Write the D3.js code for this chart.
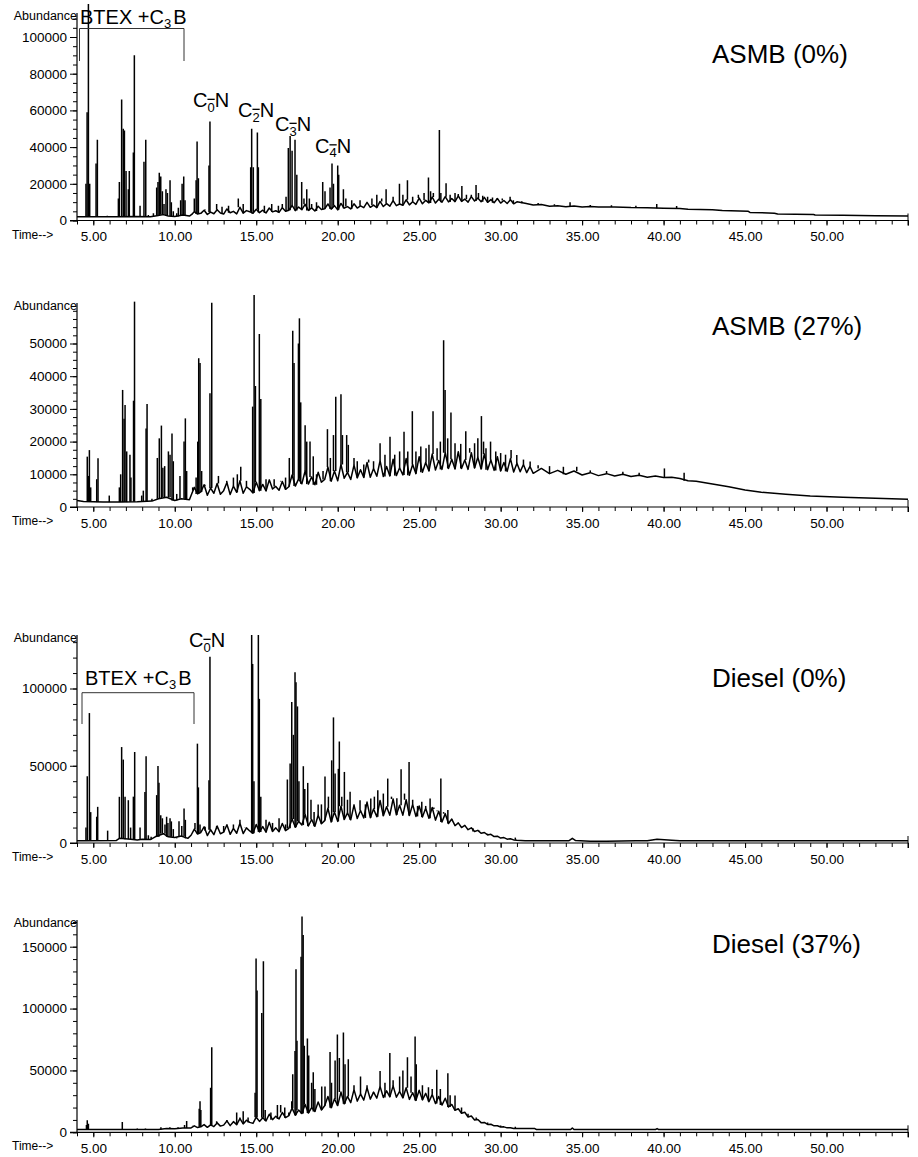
<!DOCTYPE html>
<html>
<head>
<meta charset="utf-8">
<script src="https://cdn.jsdelivr.net/npm/d3@7"></script>
<style>
body { margin: 0; background: #fff; }
svg { display: block; font-family: "Liberation Sans", Arial, sans-serif; }
</style>
</head>
<body>
<div id="chart"></div>
<script>
// ---- data (time in min, abundance) ----
var timeMajor = [5, 10, 15, 20, 25, 30, 35, 40, 45, 50, 55]

var asmb0Ticks = [0, 20000, 40000, 60000, 80000, 100000]
var asmb27Ticks = [0, 10000, 20000, 30000, 40000, 50000]
var diesel0Ticks = [0, 50000, 100000]
var diesel37Ticks = [0, 50000, 100000, 150000]

var asmb0Base = [[4.0,2000],[4.5,2000],[5.5,2000],[6.4,2000],[7.6,2200],[8.5,2000],[8.9,2600],[9.3,3200],[9.6,2500],[10.0,2200],[10.5,3000],[10.9,2400],
 [11.0,3000],[11.2,4800],[11.4,3500],[11.6,3900],[11.8,5600],[12.0,3300],[12.2,4600],[12.4,3700],[12.6,5900],[12.8,4100],[13.0,3500],[13.2,6300],
 [13.4,4200],[13.6,5000],[13.8,3600],[14.0,7200],[14.2,4000],[14.4,5400],[14.6,4800],[14.8,3900],[15.0,6100],[15.2,4300],[15.4,5600],[15.6,4100],
 [15.8,6800],[16.0,4700],[16.2,5300],[16.4,4400],[16.6,7000],[16.8,5000],[17.0,5600],[17.2,8200],[17.4,5400],[17.6,7300],[17.8,5900],[18.0,8800],
 [18.2,5500],[18.4,6900],[18.6,5200],[18.8,7800],[19.0,6000],[19.2,6400],[19.4,9000],[19.6,6200],[19.8,8100],[20.0,5800],[20.2,9300],[20.4,6700],
 [20.6,7600],[20.8,6300],[21.0,9100],[21.2,6800],[21.4,8000],[21.6,7000],[21.8,9900],[22.0,7200],[22.2,8400],[22.4,7000],[22.6,10400],[22.8,7600],
 [23.0,9200],[23.2,7800],[23.4,10800],[23.6,8100],[23.8,9000],[24.0,8300],[24.2,11300],[24.4,8500],[24.6,10200],[24.8,8800],[25.0,12200],[25.2,9100],
 [25.4,11000],[25.6,9600],[25.8,12800],[26.0,9500],[26.2,11600],[26.4,10000],[26.6,13000],[26.8,10100],[27.0,12000],[27.2,10300],[27.4,13400],[27.6,10400],
 [27.8,11700],[28.0,10000],[28.2,13000],[28.4,10600],[28.6,12200],[28.8,10200],[29.0,12600],[29.2,9900],[29.4,11400],[29.6,9700],[29.8,12000],[30.0,9500],
 [30.2,10900],[30.4,9300],[30.6,11300],[30.8,9100],[31.0,10200],
 [31.5,9400],[32.0,8400],[32.5,8700],[33.0,7800],[33.5,8000],[34.0,7500],[34.5,7900],[35.0,7300],[35.5,7600],[36.0,7300],[37.0,7400],[38.0,7100],
 [39.0,7000],[40.0,6700],[41.0,6500],[41.5,6100],[43.0,5800],[43.6,5400],[45.2,5000],[45.3,4400],[46.8,4000],[47.0,3500],[49.2,3300],[49.3,3000],
 [51.0,2800],[53.0,2600],[55.0,2500]]

var asmb0Peaks = [[4.55,20000],[4.62,59000],[4.70,118000],[4.78,20000],[5.17,31000],[5.25,44000],[5.86,2600],[6.54,12000],[6.60,21000],[6.74,66000],
 [6.84,50000],[6.91,49000],[7.01,27000],[7.15,17000],[7.21,27000],[7.46,37000],[7.52,90000],[7.87,8000],[8.11,32000],[8.22,44000],[8.38,3000],[8.69,4000],
 [8.89,18000],[8.97,21000],[9.05,26000],[9.14,24000],[9.24,16000],[9.34,9000],[9.46,17000],[9.55,15000],[9.71,22000],[9.79,10000],[9.91,5000],[10.12,4000],
 [10.22,7000],[10.36,11000],[10.45,20000],[10.55,24000],[10.63,11000],[11.04,3500],[11.20,12000],[11.31,22000],[11.37,43000],[11.45,23000],[11.86,6000],
 [12.10,30000],[12.16,54000],[12.57,9000],[12.9,7500],[13.3,8000],[13.9,12000],[14.2,9000],[14.66,29000],[14.72,50000],[14.82,29000],[15.07,48000],
 [15.13,29000],[15.5,8000],[15.95,9000],[16.36,8000],[16.6,9000],[16.83,13000],[16.97,39500],[17.08,46000],[17.20,38000],[17.38,44000],[17.49,25000],
 [17.79,21000],[17.93,12000],[18.10,17000],[18.26,12000],[18.40,9000],[18.7,10000],[19.08,21000],[19.22,16000],[19.53,18000],[19.65,31000],[19.74,20000],
 [20.0,30000],[20.06,25000],[20.35,17000],[20.5,12000],[20.86,11000],[21.37,11000],[21.78,10000],[22.1,12000],[22.4,14000],[22.7,12000],[22.97,17000],
 [23.4,13000],[23.79,20000],[24.0,14000],[24.28,22000],[24.6,13000],[24.95,14000],[25.3,15000],[25.57,23500],[25.7,16000],[25.87,15000],[26.24,49300],
 [26.33,15000],[26.65,20300],[26.9,14000],[27.2,15000],[27.4,14500],[27.62,18800],[27.9,14000],[28.2,14000],[28.49,19300],[28.64,15000],[28.9,13500],
 [29.2,13000],[29.5,12500],[29.77,11500],[30.1,12000],[30.58,13000],[30.78,11000],[31.3,10500],[32.3,9500],[33.3,8800],[34.26,9900],[35.5,8400],
 [36.8,8300],[38.3,8000],[39.58,9000],[40.8,7900]]

var asmb27Base = [[4.0,2000],[4.4,1700],[5.6,1500],[6.5,1500],[7.7,1600],[8.6,1800],[9.0,2500],[9.5,3000],[10.0,2000],[10.4,2500],[10.9,2200],
 [11.0,3500],[11.2,6000],[11.4,4000],[11.6,4600],[11.8,6800],[12.0,3600],[12.2,5800],[12.4,4200],[12.6,7200],[12.8,3900],[13.0,5000],[13.2,7500],
 [13.4,3800],[13.6,6400],[13.8,4500],[14.0,8000],[14.2,4200],[14.4,6200],[14.6,5400],[14.8,4300],[15.0,7600],[15.2,5000],[15.4,6900],[15.6,4900],
 [15.8,8300],[16.0,5500],[16.2,6300],[16.4,5100],[16.6,7800],[16.8,5400],[17.0,6200],[17.2,9800],[17.4,6400],[17.6,8600],[17.8,7100],[18.0,11000],
 [18.2,7000],[18.4,9200],[18.6,6800],[18.8,10600],[19.0,7600],[19.2,8400],[19.4,12200],[19.6,7900],[19.8,11000],[20.0,8000],[20.2,13000],[20.4,8800],
 [20.6,10600],[20.8,8400],[21.0,12800],[21.2,8900],[21.4,11400],[21.6,9000],[21.8,13600],[22.0,9100],[22.2,11800],[22.4,9400],[22.6,14200],[22.8,9300],
 [23.0,12400],[23.2,9500],[23.4,14600],[23.6,9600],[23.8,12000],[24.0,9800],[24.2,14800],[24.4,9700],[24.6,13000],[24.8,10200],[25.0,15400],[25.2,10600],
 [25.4,13600],[25.6,11000],[25.8,16200],[26.0,11300],[26.2,14200],[26.4,11500],[26.6,16600],[26.8,11800],[27.0,14600],[27.2,11600],[27.4,16900],[27.6,11800],
 [27.8,14400],[28.0,11500],[28.2,16600],[28.4,11900],[28.6,15200],[28.8,11600],[29.0,16200],[29.2,11400],[29.4,14400],[29.6,11200],[29.8,15400],[30.0,11000],
 [30.2,13600],[30.4,10900],[30.6,14800],[30.8,10700],[31.0,13400],[31.2,10800],[31.4,13000],[31.6,10500],[31.8,12400],[32.0,10300],
 [32.5,11800],[33.0,10200],[33.5,11200],[34.0,10000],[34.5,11000],[35.0,9800],[35.5,10500],[36.0,9600],[36.5,10200],[37.0,9500],[37.5,10000],
 [38.0,9300],[38.5,9700],[39.0,9100],[39.5,9500],[40.0,9000],[40.5,9100],[41.0,8700],[41.5,8000],[42.0,7900],[43.0,7000],[44.0,6200],[45.0,5200],
 [46.0,4500],[47.5,3900],[49.0,3400],[51.0,3000],[53.0,2700],[55.0,2400]]

var asmb27Peaks = [[4.63,15400],[4.70,9500],[4.76,17400],[4.84,6000],[5.21,8500],[5.29,14900],[5.98,3500],[6.60,6000],[6.68,10000],[6.80,35800],
 [6.89,27000],[6.95,31200],[7.05,17000],[7.25,16000],[7.31,9000],[7.47,32500],[7.53,62800],[7.97,3500],[8.07,5000],[8.24,24000],[8.30,31500],[8.6,2500],
 [8.93,15000],[9.05,21000],[9.18,24900],[9.27,12000],[9.38,12500],[9.61,17000],[9.71,16000],[9.83,22500],[9.91,14000],[10.12,4000],[10.32,9500],
 [10.57,20000],[10.65,27100],[10.73,11000],[11.10,5000],[11.31,9000],[11.41,20000],[11.47,45500],[11.55,44000],[11.65,11000],[11.86,6500],[12.16,34800],
 [12.27,62500],[12.68,9500],[13.19,8000],[13.6,9000],[13.84,10000],[14.05,12300],[14.4,8000],[14.78,30700],[14.87,64800],[14.95,37000],[15.19,52900],
 [15.28,33000],[15.6,8500],[16.1,8500],[16.5,8000],[16.8,9000],[17.03,15000],[17.24,53900],[17.32,44000],[17.59,50000],[17.65,57700],[17.73,32000],
 [18.0,25000],[18.1,20000],[18.3,20000],[18.5,15500],[18.7,10000],[19.1,11000],[19.37,23800],[19.55,15000],[19.74,22000],[19.88,33700],[20.2,34500],
 [20.29,22000],[20.55,22000],[20.65,19000],[21.0,15000],[21.2,14000],[21.6,13000],[21.9,14500],[22.2,14000],[22.6,19500],[22.9,16000],[23.21,21500],
 [23.5,16000],[23.8,17000],[24.07,23000],[24.3,17000],[24.58,29300],[24.8,17000],[25.1,18500],[25.42,18000],[25.6,19000],[25.85,29300],[26.1,18000],
 [26.3,20000],[26.50,51000],[26.59,35800],[26.75,21000],[26.95,28900],[27.2,19500],[27.55,19300],[27.86,23200],[28.1,18000],[28.4,19500],[28.6,21000],
 [28.82,27800],[28.95,20000],[29.1,18000],[29.38,20000],[29.7,17000],[30.0,16500],[30.3,16000],[30.64,17400],[30.99,15900],[31.4,14500],[31.81,13900],
 [32.3,12800],[33.0,12500],[33.85,12300],[34.67,12300],[35.5,11200],[36.5,11000],[37.5,10800],[38.5,10500],[40.05,11800],[41.26,10500]]

var diesel0Base = [[4.0,1500],[4.5,1500],[6.4,1600],[6.6,3000],[7.3,2500],[7.7,2000],[8.0,2500],[8.5,2200],[8.8,4000],[9.3,6000],[9.6,4000],[10.0,3500],
 [10.4,4500],[10.8,3000],
 [11.0,5000],[11.2,9000],[11.4,5800],[11.6,6800],[11.8,10500],[12.0,4800],[12.2,8600],[12.4,5400],[12.6,11000],[12.8,6000],[13.0,7000],[13.2,11800],
 [13.4,5600],[13.6,9500],[13.8,6300],[14.0,12800],[14.2,6100],[14.4,9800],[14.6,7800],[14.8,6300],[15.0,12000],[15.2,7200],[15.4,10600],[15.6,7000],
 [15.8,13400],[16.0,7500],[16.2,9800],[16.4,7300],[16.6,12600],[16.8,8000],[17.0,9500],[17.2,15500],[17.4,10200],[17.6,14000],[17.8,11600],[18.0,18500],
 [18.2,11000],[18.4,15200],[18.6,10800],[18.8,18000],[19.0,12400],[19.2,14500],[19.4,22500],[19.6,13600],[19.8,20000],[20.0,14000],[20.2,23800],[20.4,15200],
 [20.6,19500],[20.8,15000],[21.0,24500],[21.2,15800],[21.4,21000],[21.6,16200],[21.8,26500],[22.0,16400],[22.2,22000],[22.4,17000],[22.6,27500],[22.8,17600],
 [23.0,23500],[23.2,18000],[23.4,28500],[23.6,18200],[23.8,24500],[24.0,18000],[24.2,28000],[24.4,17800],[24.6,25000],[24.8,17200],[25.0,24000],[25.2,16800],
 [25.4,22500],[25.6,16000],[25.8,23000],[26.0,14800],[26.2,20500],[26.4,13600],[26.6,19000],[26.8,12600],[27.0,15500],[27.2,11200],[27.4,13000],[27.6,10000],
 [27.8,11400],[28.0,8600],[28.2,9800],[28.4,7400],[28.6,8200],[28.8,6300],[29.0,6800],[29.2,5200],[29.4,5600],[29.6,4200],[29.8,4400],[30.0,3200],
 [30.2,3500],[30.4,2500],[30.6,2700],[30.8,2000],[31.0,1800],
 [31.5,1500],[34.2,1500],[34.4,3000],[34.6,1600],[35.5,1200],[36.5,1200],[38.3,1400],[39.0,1400],[39.6,2500],[40.5,1800],[41.0,1500],[55.0,1500]]

var diesel0Peaks = [[4.55,10000],[4.63,43200],[4.76,84100],[4.84,20000],[5.21,17000],[5.27,23400],[5.88,8000],[6.60,29900],[6.74,62100],[6.84,54000],
 [6.95,30000],[7.15,27700],[7.29,10000],[7.46,30000],[7.54,58900],[7.87,10000],[8.17,33000],[8.24,56100],[8.38,5000],[8.55,4000],[8.89,31000],[8.97,49900],
 [9.03,39000],[9.14,18000],[9.24,16000],[9.4,12000],[9.5,17000],[9.58,13000],[9.71,16000],[9.79,14000],[9.91,9000],[10.12,3000],[10.26,14000],[10.43,11000],
 [10.57,22400],[10.65,15000],[11.04,5000],[11.24,13000],[11.39,64300],[11.45,36000],[11.55,12000],[11.86,8000],[12.10,40600],[12.16,120600],[12.57,9000],
 [13.0,11000],[13.6,12000],[14.0,15000],[14.3,10000],[14.72,140000],[14.78,115900],[14.86,40000],[15.13,140000],[15.19,93300],[15.28,30000],[15.6,15000],
 [16.0,13000],[16.4,16000],[16.8,12000],[16.91,41100],[17.08,51400],[17.18,91200],[17.28,70000],[17.38,110500],[17.44,104100],[17.53,88400],[17.62,40000],
 [17.89,49700],[17.98,35000],[18.16,38900],[18.36,28000],[18.55,20000],[18.8,25000],[19.0,25000],[19.22,43000],[19.43,30000],[19.63,53500],[19.74,81300],
 [19.84,45000],[20.04,48000],[20.1,65700],[20.25,30000],[20.41,46000],[20.6,28000],[20.76,33100],[21.0,25000],[21.37,27700],[21.7,25000],[22.03,28800],
 [22.25,30000],[22.46,34200],[22.8,32000],[23.07,41700],[23.3,30000],[23.63,29000],[23.89,47700],[24.1,32000],[24.38,52500],[24.6,28000],[24.9,24000],
 [25.16,26700],[25.4,24000],[25.67,28800],[25.9,22000],[26.1,21000],[26.33,41700],[26.5,20000],[26.76,21300],[27.0,15000],[27.4,12500],[27.8,11000],
 [28.3,9500],[28.7,8000],[29.2,6000],[30.9,3500]]

var diesel37Base = [[4.0,2200],[9.0,2200],[9.5,3000],[10.0,2800],[10.5,3500],
 [11.0,3500],[11.2,5200],[11.4,3800],[11.6,4400],[11.8,6200],[12.0,4000],[12.2,6000],[12.4,4600],[12.6,7600],[12.8,5000],[13.0,5800],[13.2,9200],
 [13.4,5400],[13.6,8600],[13.8,6200],[14.0,11000],[14.2,6800],[14.4,9800],[14.6,8000],[14.8,7200],[15.0,12200],[15.2,8800],[15.4,11800],[15.6,9200],
 [15.8,14600],[16.0,10200],[16.2,13000],[16.4,10800],[16.6,16000],[16.8,11800],[17.0,13500],[17.2,19500],[17.4,13800],[17.6,18000],[17.8,15200],[18.0,22500],
 [18.2,15600],[18.4,20000],[18.6,16800],[18.8,24500],[19.0,18000],[19.2,21500],[19.4,29000],[19.6,19800],[19.8,27000],[20.0,21600],[20.2,32500],[20.4,23000],
 [20.6,29000],[20.8,24000],[21.0,34500],[21.2,25200],[21.4,31000],[21.6,26000],[21.8,36000],[22.0,26800],[22.2,32500],[22.4,27600],[22.6,37000],[22.8,28200],
 [23.0,33500],[23.2,28600],[23.4,37500],[23.6,28400],[23.8,33000],[24.0,27800],[24.2,36000],[24.4,26600],[24.6,32000],[24.8,25800],[25.0,34000],[25.2,26200],
 [25.4,31500],[25.6,24800],[25.8,30500],[26.0,23200],[26.2,29000],[26.4,22000],[26.6,27500],[26.8,20500],[27.0,22500],[27.2,17800],[27.4,19000],[27.6,15400],
 [27.8,16200],[28.0,12400],[28.2,13200],[28.4,10000],[28.6,10400],[28.8,7800],[29.0,8000],[29.2,6400],[29.4,6500],[29.6,5200],[29.8,5300],[30.0,4300],
 [30.2,4400],[30.4,3600],[30.6,3700],[30.8,3100],[31.0,3000],
 [32.1,3000],[32.2,2200],[34.3,2200],[34.4,3500],[34.5,2200],[39.5,2200],[39.6,3000],[39.7,2200],[55.0,2200]]

var diesel37Peaks = [[4.58,6000],[4.63,9700],[4.70,7000],[6.78,8300],[7.7,3000],[8.2,3000],[9.15,4000],[9.7,4000],[10.2,4000],[10.6,6000],[10.73,9100],
 [11.1,5000],[11.5,19000],[11.55,25000],[11.6,18000],[12.2,36000],[12.27,68800],[12.57,9000],[13.2,10000],[13.8,16000],[14.0,12000],[14.2,17000],[14.5,12000],
 [14.93,32000],[14.99,140500],[15.05,114700],[15.34,96500],[15.44,138300],[15.55,18000],[15.9,16000],[16.3,22000],[16.5,22000],[16.75,20000],[17.0,16000],
 [17.18,25000],[17.24,47000],[17.38,65800],[17.44,131800],[17.5,74000],[17.75,141800],[17.81,174500],[17.88,159500],[17.95,70000],[18.14,75800],[18.22,62000],
 [18.4,40000],[18.5,48600],[18.6,35000],[19.02,37000],[19.22,37000],[19.53,64900],[19.62,40000],[19.84,58000],[19.98,79000],[20.1,60000],[20.35,80700],
 [20.45,55000],[20.65,59000],[21.0,38000],[21.4,45000],[21.8,38000],[22.2,32000],[22.6,49500],[22.9,40000],[23.2,64000],[23.4,42000],[23.8,45000],
 [24.0,50000],[24.28,60700],[24.5,45000],[24.75,77400],[24.82,55000],[25.2,38000],[25.57,36500],[25.8,35000],[26.08,50600],[26.3,35000],[26.76,47800],
 [26.9,30000],[27.2,29800],[27.6,20000],[28.0,15000],[28.5,12000],[29.2,8000],[30.0,5500],[30.9,4500]]

// ---- layout ----
var W = 918, H = 1157
var panels = [
	{ title: 'ASMB (0%)', base: asmb0Base, peaks: asmb0Peaks, ticks: asmb0Ticks, minor: 5000,
	  zeroY: 220.5, refVal: 100000, refY: 37, topY: 13, clipY: 0, titleY: 63 },
	{ title: 'ASMB (27%)', base: asmb27Base, peaks: asmb27Peaks, ticks: asmb27Ticks, minor: 2500,
	  zeroY: 507, refVal: 50000, refY: 343.5, topY: 303, clipY: 280, titleY: 335 },
	{ title: 'Diesel (0%)', base: diesel0Base, peaks: diesel0Peaks, ticks: diesel0Ticks, minor: 10000,
	  zeroY: 843, refVal: 100000, refY: 688.5, topY: 635, clipY: 635, titleY: 687 },
	{ title: 'Diesel (37%)', base: diesel37Base, peaks: diesel37Peaks, ticks: diesel37Ticks, minor: 10000,
	  zeroY: 1132.3, refVal: 150000, refY: 946.7, topY: 920, clipY: 900, titleY: 953 }
]

var svg = d3.select('#chart').append('svg').attr('width', W).attr('height', H)

var x = d3.scaleLinear().domain([4, 55]).range([77, 908])
var fmtT = d3.format('.2f')

panels.forEach(function(p, i) {
	var y = d3.scaleLinear().domain([0, p.refVal]).range([p.zeroY, p.refY])
	var g = svg.append('g')

	// clip (diesel 0% peaks run off the top)
	g.append('clipPath').attr('id', 'clip' + i)
		.append('rect').attr('x', 60).attr('y', p.clipY).attr('width', 860).attr('height', p.zeroY - p.clipY + 1)

	// x axis
	var xa = g.append('g').attr('transform', 'translate(0,' + p.zeroY + ')')
		.call(d3.axisBottom(x).tickValues(timeMajor).tickSize(5).tickPadding(6)
			.tickFormat(function(d) { return d < 55 ? fmtT(d) : '' }))
	var xm = g.append('g').attr('transform', 'translate(0,' + p.zeroY + ')')
		.call(d3.axisBottom(x).tickValues(d3.range(4, 56, 1)).tickSize(4).tickFormat(''))
	g.append('line').attr('x1', 70).attr('x2', 908.5).attr('y1', p.zeroY).attr('y2', p.zeroY)
		.attr('stroke', '#000').attr('stroke-width', 1.2)
	g.append('line').attr('x1', 908).attr('x2', 908).attr('y1', p.zeroY - 7).attr('y2', p.zeroY + 5)
		.attr('stroke', '#000')

	// y axis
	var topVal = y.invert(p.topY)
	var ya = g.append('g').attr('transform', 'translate(77,0)')
		.call(d3.axisLeft(y).tickValues(p.ticks).tickSize(7).tickPadding(3).tickFormat(d3.format('d')))
	var ym = g.append('g').attr('transform', 'translate(77,0)')
		.call(d3.axisLeft(y).tickValues(d3.range(0, topVal, p.minor)).tickSize(4).tickFormat(''))
	g.append('line').attr('x1', 77).attr('x2', 77).attr('y1', p.zeroY).attr('y2', p.topY)
		.attr('stroke', '#000').attr('stroke-width', 1.2)

	;[xa, xm, ya, ym].forEach(function(a) {
		a.select('.domain').remove()
		a.selectAll('line').attr('stroke', '#000')
		a.selectAll('text').attr('fill', '#000').style('font-size', '13.5px')
			.style('font-family', '"Liberation Sans", Arial, sans-serif')
	})

	g.append('text').attr('x', 77).attr('y', p.topY + 7).attr('text-anchor', 'end')
		.style('font-size', '12.5px').text('Abundance')
	g.append('text').attr('x', 12).attr('y', p.zeroY + 18)
		.style('font-size', '12px').text('Time-->')

	// trace: noisy baseline + spikes
	var plot = g.append('g').attr('clip-path', 'url(#clip' + i + ')')
	var line = d3.line().x(function(d) { return x(d[0]) }).y(function(d) { return y(d[1]) })
	plot.append('path').datum(p.base).attr('d', line)
		.attr('fill', 'none').attr('stroke', '#000').attr('stroke-width', 1.5)
		.attr('stroke-linejoin', 'round')

	var bis = d3.bisector(function(d) { return d[0] }).center
	plot.selectAll('line.pk').data(p.peaks).enter().append('line')
		.attr('class', 'pk')
		.attr('x1', function(d) { return x(d[0]) })
		.attr('x2', function(d) { return x(d[0]) })
		.attr('y1', function(d) { return y(p.base[bis(p.base, d[0])][1]) })
		.attr('y2', function(d) { return y(d[1]) })
		.attr('stroke', '#000').attr('stroke-width', 1.5)

	g.append('text').attr('x', 712).attr('y', p.titleY).style('font-size', '26px').text(p.title)
})

// ---- annotations ----
function cnLabel(xp, yp, digit) {
	var t = svg.append('text').attr('x', xp).attr('y', yp).style('font-size', '20px')
	t.append('tspan').text('C')
	t.append('tspan').style('font-size', '13px').style('text-decoration', 'overline')
		.attr('dy', 4.7).text(digit)
	t.append('tspan').attr('dy', -4.7).text('N')
}
function btex(xp, yp, bx1, bx2, by, bend) {
	var t = svg.append('text').attr('x', xp).attr('y', yp).style('font-size', '20px')
	t.append('tspan').text('BTEX +C')
	t.append('tspan').style('font-size', '13px').attr('dy', 4).text('3')
	t.append('tspan').attr('dx', 2).attr('dy', -4).text('B')
	svg.append('path').attr('d', 'M' + bx1 + ',' + bend + 'V' + by + 'H' + bx2 + 'V' + bend)
		.attr('fill', 'none').attr('stroke', '#333').attr('stroke-width', 1)
}

btex(80, 24, 79.5, 184, 28.5, 61)
cnLabel(193, 107, '0')
cnLabel(238, 117, '2')
cnLabel(275, 131, '3')
cnLabel(315, 152.5, '4')

btex(85, 685, 82, 194, 692.7, 724)
cnLabel(189, 647, '0')
</script>
</body>
</html>
